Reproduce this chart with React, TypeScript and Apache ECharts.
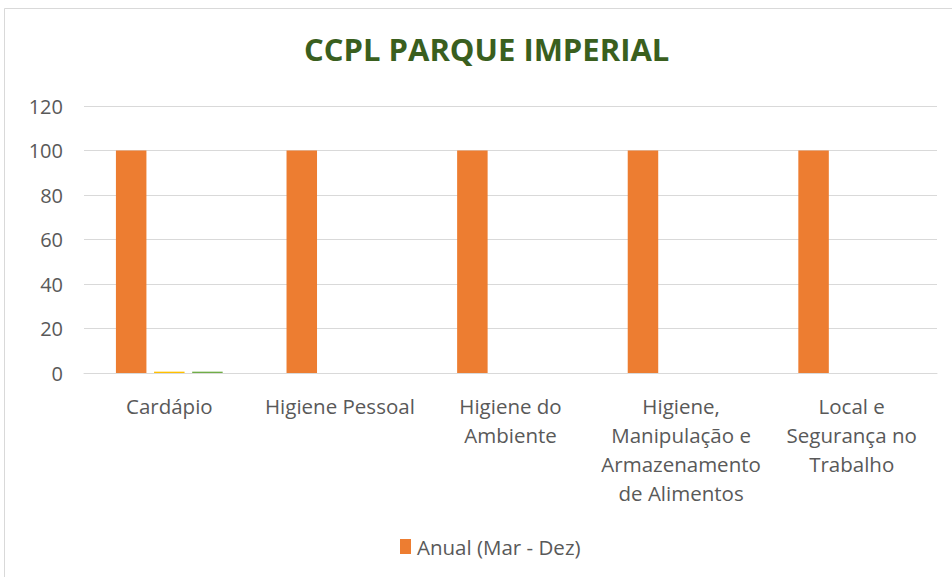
import React, { useEffect, useRef } from "react";
import * as echarts from "echarts";

const titleText = "CCPL PARQUE IMPERIAL";
const categories = [
  "Cardápio",
  "Higiene Pessoal",
  "Higiene do\nAmbiente",
  "Higiene,\nManipulação e\nArmazenamento\nde Alimentos",
  "Local e\nSegurança no\nTrabalho",
];
const anualValues = [100, 100, 100, 100, 100];
const serie2Values = [0.6, 0, 0, 0, 0];
const serie3Values = [0.6, 0, 0, 0, 0];
const yTicks = { min: 0, max: 120, interval: 20 };

const FONT = "'Open Sans', 'Noto Sans', sans-serif";

export default function App() {
  const ref = useRef<HTMLDivElement>(null);
  useEffect(() => {
    if (!ref.current) return;
    const chart = echarts.init(ref.current, undefined, { renderer: "svg" });
    chart.setOption({
      animation: false,
      backgroundColor: "#ffffff",
      title: {
        text: titleText,
        left: 299,
        top: 28,
        textStyle: {
          fontFamily: FONT,
          fontWeight: "bold",
          fontSize: 31,
          color: "#3A5F1E",
        },
      },
      graphic: [
        {
          type: "rect",
          shape: { x: 4.5, y: 8.5, width: 980, height: 600 },
          style: { fill: "none", stroke: "#D9D9D9", lineWidth: 1 },
          silent: true,
        },
      ],
      legend: {
        data: ["Anual (Mar - Dez)"],
        top: 531,
        left: 395,
        icon: "rect",
        itemWidth: 11,
        itemHeight: 15,
        itemGap: 8,
        textStyle: { fontFamily: FONT, fontSize: 20.5, color: "#595959", padding: [0, 0, 0, 1] },
      },
      grid: { left: 84, right: 15, top: 106, bottom: 204, containLabel: false },
      xAxis: {
        type: "category",
        data: categories,
        axisLine: { lineStyle: { color: "#D9D9D9", width: 1 } },
        axisTick: { show: false },
        axisLabel: {
          interval: 0,
          fontFamily: FONT,
          fontSize: 20.5,
          color: "#595959",
          lineHeight: 29,
          margin: 18,
        },
      },
      yAxis: {
        type: "value",
        min: yTicks.min,
        max: yTicks.max,
        interval: yTicks.interval,
        axisLine: { show: false },
        axisTick: { show: false },
        splitLine: { lineStyle: { color: "#D9D9D9", width: 1 } },
        axisLabel: {
          fontFamily: FONT,
          fontSize: 20,
          color: "#595959",
          margin: 21,
        },
      },
      series: [
        {
          name: "Anual (Mar - Dez)",
          type: "bar",
          data: anualValues,
          barWidth: 30.5,
          barGap: "25%",
          itemStyle: { color: "#ED7D31" },
        },
        {
          name: "Série 2",
          type: "bar",
          data: serie2Values,
          barWidth: 30.5,
          barGap: "25%",
          itemStyle: { color: "#FFC000" },
        },
        {
          name: "Série 3",
          type: "bar",
          data: serie3Values,
          barWidth: 30.5,
          barGap: "25%",
          itemStyle: { color: "#70AD47" },
        },
      ],
    });
    return () => chart.dispose();
  }, []);
  return <div ref={ref} style={{ width: 952, height: 577, position: "absolute", left: 0, top: 0 }} />;
}
